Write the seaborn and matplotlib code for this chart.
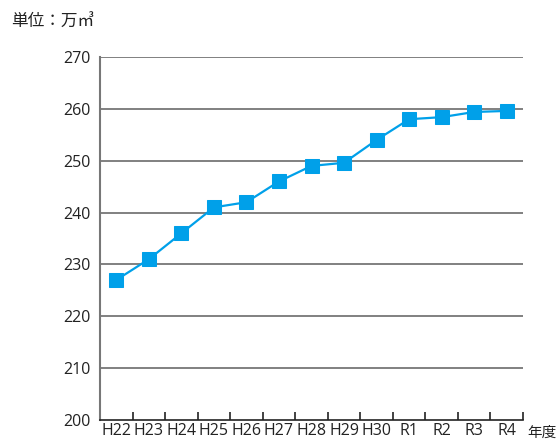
import matplotlib
matplotlib.use("Agg")
import matplotlib.pyplot as plt
import seaborn as sns
import pandas as pd
import numpy as np
from matplotlib.ticker import FixedLocator, NullFormatter

sns.set_theme(style="white")
plt.rcParams['font.family'] = ['Open Sans', 'Noto Sans CJK JP', 'DejaVu Sans']

years = ["H22", "H23", "H24", "H25", "H26", "H27", "H28", "H29", "H30",
         "R1", "R2", "R3", "R4"]
volume = [227.0, 231.0, 236.0, 241.0, 242.0, 246.0, 249.0, 249.6, 254.0,
          258.0, 258.4, 259.4, 259.6]
y_ticks = [200, 210, 220, 230, 240, 250, 260, 270]

df = pd.DataFrame({"year": years, "volume": volume})

fig = plt.figure(figsize=(5.58, 4.41), dpi=100)
ax = fig.add_axes([100 / 558, 21 / 441, 423 / 558, 363 / 441])

color = "#00A0E9"
sns.lineplot(data=df, x="year", y="volume", ax=ax, color=color,
             linewidth=1.6, marker="s", markersize=9.5,
             markeredgecolor=color, markerfacecolor=color, zorder=3)

ax.set_ylim(200, 270)
ax.set_xlim(-0.5, len(years) - 0.5)
ax.set_yticks(y_ticks)
ax.set_yticklabels([str(v) for v in y_ticks], fontsize=11.5, color="#222222")
for v in y_ticks[1:]:
    ax.axhline(v, color="#6b6b6b", linewidth=1.2, zorder=1)

ax.set_xticks(range(len(years)))
ax.set_xticklabels(years, fontsize=11.5, color="#222222")
ax.tick_params(axis="x", which="major", length=0, pad=2)
ax.tick_params(axis="y", which="major", length=0, pad=7)

# category boundary ticks pointing inward
bounds = np.arange(len(years)) + 0.5
ax.xaxis.set_minor_locator(FixedLocator(bounds))
ax.xaxis.set_minor_formatter(NullFormatter())
ax.tick_params(axis="x", which="minor", direction="in", length=6,
               width=1.2, color="#222222", bottom=True)

ax.set_xlabel("")
ax.set_ylabel("")
for s in ["top", "right"]:
    ax.spines[s].set_visible(False)
ax.spines["left"].set_color("#777777")
ax.spines["left"].set_linewidth(1.5)
ax.spines["bottom"].set_color("#222222")
ax.spines["bottom"].set_linewidth(1.2)

fig.text(11 / 558, 1 - 23 / 441, "単位：万㎥", fontsize=12,
         color="#222222", va="center", ha="left")
fig.text(527 / 558, 1 - 433 / 441, "年度", fontsize=10.5,
         color="#222222", va="center", ha="left")

fig.savefig("out.png", dpi=100)
